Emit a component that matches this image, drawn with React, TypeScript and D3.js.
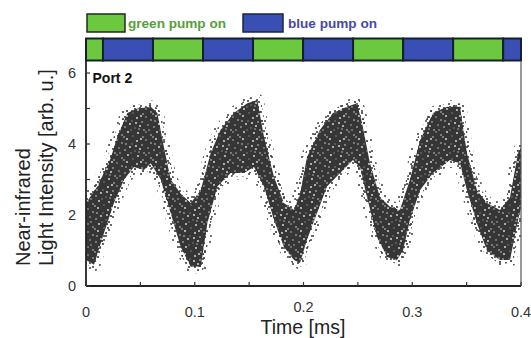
import React from "react";
import * as d3 from "d3";

// Pump schedule (ms) and state of each interval
const pumpBounds = [0, 0.0156, 0.0616, 0.1076, 0.1536, 0.1996, 0.2456, 0.2916, 0.3376, 0.3836, 0.4];
const pumpStates = ["green", "blue", "green", "blue", "green", "blue", "green", "blue", "green", "blue"];

// Upper envelope of the scatter cloud (time ms, intensity)
const upperT = [0, 0.0104, 0.0227, 0.0288, 0.038, 0.0472, 0.0595, 0.0656, 0.0717, 0.0779, 0.0871, 0.0963, 0.1055, 0.1146, 0.1238, 0.136, 0.1483, 0.1575, 0.1637, 0.1729, 0.182, 0.1913, 0.1968, 0.2032, 0.2152, 0.2271, 0.24, 0.2492, 0.2538, 0.2611, 0.2703, 0.2795, 0.2887, 0.2979, 0.3071, 0.3191, 0.332, 0.3439, 0.3503, 0.3595, 0.3687, 0.3807, 0.3899, 0.3972, 0.4];
const upperV = [2.34, 2.8, 3.6, 4.2, 4.87, 5.0, 5.05, 4.87, 3.9, 3.0, 2.6, 2.34, 2.7, 3.74, 4.4, 4.87, 5.15, 5.24, 4.2, 3.07, 2.34, 2.14, 2.6, 3.63, 4.4, 4.87, 5.05, 5.15, 4.6, 3.46, 2.5, 2.23, 2.14, 3.0, 4.1, 4.87, 5.05, 5.05, 3.74, 2.7, 2.34, 2.14, 2.5, 3.74, 3.9];

// Lower envelope of the scatter cloud
const lowerT = [0, 0.0074, 0.0166, 0.0257, 0.035, 0.0441, 0.0533, 0.0595, 0.0687, 0.0779, 0.0871, 0.0963, 0.1055, 0.1116, 0.1208, 0.133, 0.1453, 0.1545, 0.1637, 0.1729, 0.182, 0.1913, 0.1968, 0.2032, 0.2124, 0.2216, 0.2336, 0.2455, 0.252, 0.2584, 0.2676, 0.2768, 0.286, 0.2915, 0.2979, 0.3071, 0.3191, 0.3347, 0.3439, 0.3503, 0.3595, 0.3687, 0.3807, 0.3899, 0.3972, 0.4];
const lowerV = [0.73, 0.6, 1.5, 2.34, 3.0, 3.35, 3.27, 3.46, 3.0, 2.05, 1.1, 0.54, 0.54, 1.77, 2.8, 3.18, 3.18, 3.35, 2.8, 1.86, 1.1, 0.73, 0.65, 1.3, 2.05, 2.8, 3.18, 3.55, 3.35, 2.5, 1.38, 0.82, 0.73, 1.0, 1.86, 2.7, 3.18, 3.55, 3.46, 2.7, 1.77, 1.0, 0.73, 0.73, 1.86, 2.2];

const xTicks = [0, 0.05, 0.1, 0.15, 0.2, 0.25, 0.3, 0.35, 0.4];
const xTickLabels = ["0", "", "0.1", "", "0.2", "", "0.3", "", "0.4"];
const yTicks = [0, 1, 2, 3, 4, 5, 6];
const yTickLabels = ["0", "", "2", "", "4", "", "6"];

const FONT = "'Liberation Sans', Arial, Helvetica, sans-serif";
const GREEN = "#6cc83e";
const BLUE = "#3a4fb3";

// texture offsets for the stipple patterns (style only)
const coreHoles = [[1,2],[6,5],[11,1],[16,6],[21,3],[26,7],[3,10],[9,12],[14,9],[19,13],[24,11],[28,15],[1,17],[6,20],[12,17],[17,21],[22,18],[27,22],[4,15],[10,6],[20,8],[15,15],[25,1],[8,22],[23,14]];
const midDots = [[1,1],[6,3],[3,6],[9,7],[11,2],[7,10],[12,11],[2,11],[5,0],[10,13],[14,5]];
const haloDots = [[2,3],[11,1],[7,9],[16,8],[3,14],[13,14],[18,3],[20,12]];

export default function App() {
  const x = d3.scaleLinear().domain([0, 0.4]).range([86, 521]);
  const y = d3.scaleLinear().domain([0, 6]).range([286, 73]);
  const plotTop = 61;
  const plotBottom = 286;
  const left = x(0);
  const right = x(0.4);

  const pts: [number, number][] = [];
  upperT.forEach((t, i) => pts.push([t, upperV[i]]));
  for (let i = lowerT.length - 1; i >= 0; i--) pts.push([lowerT[i], lowerV[i]]);
  const line = d3.line<[number, number]>().x(d => x(d[0])).y(d => y(d[1])).curve(d3.curveLinearClosed);
  const poly = line(pts) || "";

  return (
    <svg width={531} height={338} style={{ position: "absolute", left: 0, top: 0, background: "#fff" }} fontFamily={FONT}>
      <defs>
        <clipPath id="plotClip">
          <rect x={left} y={plotTop} width={right - left} height={plotBottom - plotTop} />
        </clipPath>
        <pattern id="core" patternUnits="userSpaceOnUse" width={29} height={23}>
          <rect width={29} height={23} fill="#363636" />
          {coreHoles.map((h, i) => (
            <circle key={i} cx={h[0]} cy={h[1]} r={i % 2 === 0 ? 0.9 : 0.75} fill={i % 3 === 0 ? "#8a8a8a" : "#e6e6e6"} />
          ))}
        </pattern>
        <pattern id="mid" patternUnits="userSpaceOnUse" width={16} height={15}>
          {midDots.map((d, i) => (
            <circle key={i} cx={d[0] + 1} cy={d[1] + 1} r={1.1} fill="#3a3a3a" />
          ))}
        </pattern>
        <pattern id="halo" patternUnits="userSpaceOnUse" width={23} height={17}>
          {haloDots.map((d, i) => (
            <circle key={i} cx={d[0] + 1} cy={d[1] + 1} r={1} fill="#3a3a3a" />
          ))}
        </pattern>
      </defs>

      {/* legend */}
      <rect x={87} y={14} width={38} height={18} fill={GREEN} stroke="#1e2a1e" strokeWidth={1.5} />
      <text x={128} y={28} fontSize={13} fontWeight="bold" fill="#56a03a" textLength={98} lengthAdjust="spacingAndGlyphs">green pump on</text>
      <rect x={243} y={14} width={40} height={18} fill={BLUE} stroke="#1e2440" strokeWidth={1.5} />
      <text x={288} y={28} fontSize={13} fontWeight="bold" fill="#4848a2" textLength={89} lengthAdjust="spacingAndGlyphs">blue pump on</text>

      {/* pump bar */}
      {pumpStates.map((s, i) => (
        <rect key={i} x={x(pumpBounds[i])} y={38.5} width={x(pumpBounds[i + 1]) - x(pumpBounds[i])} height={22}
          fill={s === "green" ? GREEN : BLUE} stroke="#16202a" strokeWidth={2} />
      ))}

      {/* scatter cloud */}
      <g clipPath="url(#plotClip)">
        <path d={poly} fill="none" stroke="url(#halo)" strokeWidth={13} strokeLinejoin="round" />
        <path d={poly} fill="none" stroke="url(#mid)" strokeWidth={7} strokeLinejoin="round" />
        <path d={poly} fill="url(#core)" />
      </g>

      {/* frame */}
      <line x1={left} x2={left} y1={plotTop} y2={plotBottom} stroke="#222" strokeWidth={1.8} />
      <line x1={left} x2={right} y1={plotBottom} y2={plotBottom} stroke="#222" strokeWidth={1.8} />
      <line x1={right} x2={right} y1={plotTop} y2={plotBottom} stroke="#555" strokeWidth={1.2} />

      {/* x ticks */}
      {xTicks.map((t, i) => (
        <g key={i}>
          <line x1={x(t)} x2={x(t)} y1={plotBottom} y2={plotBottom - 4} stroke="#333" strokeWidth={1.2} />
          {xTickLabels[i] && (
            <text x={x(t)} y={t === 0.2 ? 312 : 317} fontSize={14.5} fill="#333" textAnchor="middle">{xTickLabels[i]}</text>
          )}
        </g>
      ))}
      {/* y ticks */}
      {yTicks.map((v, i) => (
        <g key={i}>
          <line x1={left} x2={left + 4} y1={y(v)} y2={y(v)} stroke="#333" strokeWidth={1.2} />
          {yTickLabels[i] && (
            <text x={76} y={y(v) + 5} fontSize={14.5} fill="#333" textAnchor="end">{yTickLabels[i]}</text>
          )}
        </g>
      ))}

      <text x={92.5} y={82.5} fontSize={14} fontWeight="bold" fill="#111">Port 2</text>

      {/* axis titles */}
      <text x={303} y={334} fontSize={19.5} fill="#222" textAnchor="middle">Time [ms]</text>
      <text transform="translate(30,266) rotate(-90)" fontSize={20} fill="#222">Near-infrared</text>
      <text transform="translate(53,266) rotate(-90)" fontSize={20} fill="#222">Light Intensity [arb. u.]</text>
    </svg>
  );
}
